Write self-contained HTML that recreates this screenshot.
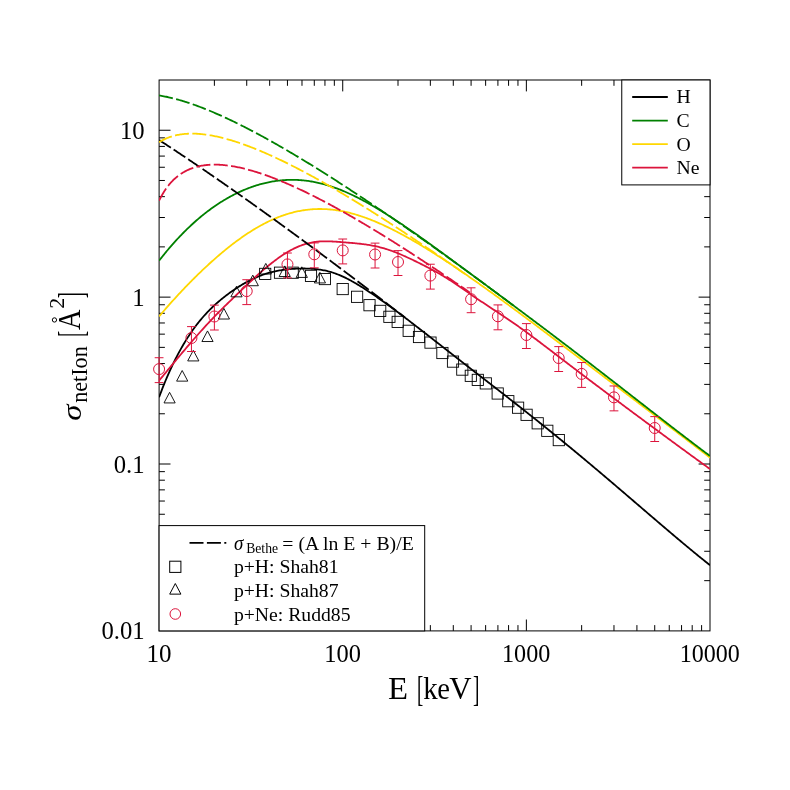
<!DOCTYPE html>
<html><head><meta charset="utf-8"><title>chart</title>
<style>html,body{margin:0;padding:0;background:#fff;width:790px;height:790px;overflow:hidden;font-family:"Liberation Serif",serif}</style>
</head><body>
<svg width="790" height="790" viewBox="0 0 790 790" style="position:absolute;left:0;top:0;will-change:transform">
<rect width="790" height="790" fill="#fff"/>
<defs><clipPath id="c"><rect x="159.1" y="80.0" width="550.9" height="550.9"/></clipPath></defs>
<path d="M214.38,80.0 v5.8 M246.72,80.0 v5.8 M269.66,80.0 v5.8 M287.45,80.0 v5.8 M301.99,80.0 v5.8 M314.29,80.0 v5.8 M324.94,80.0 v5.8 M334.33,80.0 v5.8 M342.73,80.0 v11.4 M398.01,80.0 v5.8 M430.35,630.9 v-5.8 M430.35,80.0 v5.8 M453.29,630.9 v-5.8 M453.29,80.0 v5.8 M471.09,630.9 v-5.8 M471.09,80.0 v5.8 M485.63,630.9 v-5.8 M485.63,80.0 v5.8 M497.92,630.9 v-5.8 M497.92,80.0 v5.8 M508.57,630.9 v-5.8 M508.57,80.0 v5.8 M517.96,630.9 v-5.8 M517.96,80.0 v5.8 M526.37,630.9 v-11.4 M526.37,80.0 v11.4 M581.65,630.9 v-5.8 M581.65,80.0 v5.8 M613.98,630.9 v-5.8 M613.98,80.0 v5.8 M636.92,630.9 v-5.8 M654.72,630.9 v-5.8 M669.26,630.9 v-5.8 M681.55,630.9 v-5.8 M692.20,630.9 v-5.8 M701.60,630.9 v-5.8 M710.0,580.66 h-5.8 M710.0,551.27 h-5.8 M710.0,530.42 h-5.8 M159.1,514.25 h5.8 M710.0,514.25 h-5.8 M159.1,501.04 h5.8 M710.0,501.04 h-5.8 M159.1,489.86 h5.8 M710.0,489.86 h-5.8 M159.1,480.19 h5.8 M710.0,480.19 h-5.8 M159.1,471.65 h5.8 M710.0,471.65 h-5.8 M159.1,464.01 h11.4 M710.0,464.01 h-11.4 M159.1,413.77 h5.8 M710.0,413.77 h-5.8 M159.1,384.39 h5.8 M710.0,384.39 h-5.8 M159.1,363.54 h5.8 M710.0,363.54 h-5.8 M159.1,347.36 h5.8 M710.0,347.36 h-5.8 M159.1,334.15 h5.8 M710.0,334.15 h-5.8 M159.1,322.98 h5.8 M710.0,322.98 h-5.8 M159.1,313.30 h5.8 M710.0,313.30 h-5.8 M159.1,304.76 h5.8 M710.0,304.76 h-5.8 M159.1,297.13 h11.4 M710.0,297.13 h-11.4 M159.1,246.89 h5.8 M710.0,246.89 h-5.8 M159.1,217.50 h5.8 M710.0,217.50 h-5.8 M159.1,196.65 h5.8 M710.0,196.65 h-5.8 M159.1,180.48 h5.8 M159.1,167.26 h5.8 M159.1,156.09 h5.8 M159.1,146.41 h5.8 M159.1,137.87 h5.8 M159.1,130.24 h11.4" stroke="#000" stroke-width="1" fill="none"/>
<rect x="159.1" y="80.0" width="550.90" height="550.90" fill="none" stroke="#000" stroke-width="1"/>
<g clip-path="url(#c)" fill="none" stroke-linejoin="round">
<path d="M159.10,397.25 L160.20,394.24 L161.31,391.31 L162.41,388.44 L163.52,385.64 L164.62,382.91 L165.72,380.24 L166.83,377.63 L167.93,375.08 L169.04,372.58 L170.14,370.14 L171.24,367.75 L172.35,365.41 L173.45,363.13 L174.56,360.89 L175.66,358.69 L176.76,356.55 L177.87,354.45 L178.97,352.39 L180.08,350.37 L181.18,348.40 L182.28,346.46 L183.39,344.57 L184.49,342.72 L185.60,340.90 L186.70,339.13 L187.80,337.39 L188.91,335.69 L190.01,334.03 L191.12,332.41 L192.22,330.82 L193.32,329.26 L194.43,327.74 L195.53,326.26 L196.64,324.80 L197.74,323.38 L198.84,321.99 L199.95,320.63 L201.05,319.31 L202.16,318.01 L203.26,316.74 L204.36,315.50 L205.47,314.28 L206.57,313.09 L207.68,311.93 L208.78,310.79 L209.88,309.68 L210.99,308.59 L212.09,307.52 L213.20,306.47 L214.30,305.44 L215.40,304.43 L216.51,303.44 L217.61,302.47 L218.72,301.52 L219.82,300.58 L220.92,299.66 L222.03,298.75 L223.13,297.87 L224.24,296.99 L225.34,296.13 L226.44,295.28 L227.55,294.45 L228.65,293.63 L229.76,292.83 L230.86,292.03 L231.96,291.25 L233.07,290.48 L234.17,289.73 L235.28,288.98 L236.38,288.25 L237.48,287.53 L238.59,286.83 L239.69,286.13 L240.80,285.45 L241.90,284.79 L243.00,284.13 L244.11,283.49 L245.21,282.86 L246.32,282.24 L247.42,281.64 L248.52,281.06 L249.63,280.48 L250.73,279.92 L251.84,279.38 L252.94,278.85 L254.04,278.33 L255.15,277.83 L256.25,277.35 L257.36,276.88 L258.46,276.42 L259.56,275.98 L260.67,275.56 L261.77,275.14 L262.88,274.75 L263.98,274.37 L265.08,274.00 L266.19,273.65 L267.29,273.31 L268.40,272.98 L269.50,272.67 L270.60,272.38 L271.71,272.09 L272.81,271.82 L273.92,271.57 L275.02,271.32 L276.12,271.09 L277.23,270.87 L278.33,270.66 L279.44,270.47 L280.54,270.28 L281.64,270.11 L282.75,269.94 L283.85,269.79 L284.96,269.65 L286.06,269.51 L287.16,269.39 L288.27,269.27 L289.37,269.16 L290.48,269.07 L291.58,268.97 L292.68,268.89 L293.79,268.82 L294.89,268.75 L296.00,268.69 L297.10,268.64 L298.21,268.60 L299.31,268.57 L300.41,268.54 L301.52,268.52 L302.62,268.52 L303.73,268.51 L304.83,268.52 L305.93,268.54 L307.04,268.56 L308.14,268.60 L309.25,268.64 L310.35,268.70 L311.45,268.76 L312.56,268.84 L313.66,268.92 L314.77,269.02 L315.87,269.13 L316.97,269.25 L318.08,269.39 L319.18,269.54 L320.29,269.70 L321.39,269.87 L322.49,270.07 L323.60,270.27 L324.70,270.49 L325.81,270.73 L326.91,270.99 L328.01,271.26 L329.12,271.55 L330.22,271.85 L331.33,272.17 L332.43,272.51 L333.53,272.87 L334.64,273.24 L335.74,273.63 L336.85,274.04 L337.95,274.47 L339.05,274.91 L340.16,275.37 L341.26,275.84 L342.37,276.33 L343.47,276.84 L344.57,277.36 L345.68,277.90 L346.78,278.45 L347.89,279.02 L348.99,279.60 L350.09,280.19 L351.20,280.79 L352.30,281.41 L353.41,282.03 L354.51,282.67 L355.61,283.31 L356.72,283.97 L357.82,284.63 L358.93,285.30 L360.03,285.98 L361.13,286.67 L362.24,287.36 L363.34,288.06 L364.45,288.77 L365.55,289.48 L366.65,290.20 L367.76,290.92 L368.86,291.65 L369.97,292.38 L371.07,293.12 L372.17,293.86 L373.28,294.61 L374.38,295.36 L375.49,296.12 L376.59,296.88 L377.69,297.65 L378.80,298.42 L379.90,299.19 L381.01,299.97 L382.11,300.76 L383.21,301.54 L384.32,302.33 L385.42,303.12 L386.53,303.92 L387.63,304.72 L388.73,305.52 L389.84,306.33 L390.94,307.14 L392.05,307.95 L393.15,308.76 L394.25,309.58 L395.36,310.40 L396.46,311.22 L397.57,312.05 L398.67,312.88 L399.77,313.70 L400.88,314.54 L401.98,315.37 L403.09,316.21 L404.19,317.04 L405.29,317.88 L406.40,318.72 L407.50,319.56 L408.61,320.41 L409.71,321.25 L410.81,322.10 L411.92,322.95 L413.02,323.80 L414.13,324.65 L415.23,325.50 L416.33,326.35 L417.44,327.21 L418.54,328.06 L419.65,328.92 L420.75,329.77 L421.85,330.63 L422.96,331.49 L424.06,332.35 L425.17,333.21 L426.27,334.07 L427.37,334.93 L428.48,335.79 L429.58,336.65 L430.69,337.51 L431.79,338.37 L432.89,339.23 L434.00,340.09 L435.10,340.96 L436.21,341.82 L437.31,342.68 L438.41,343.54 L439.52,344.41 L440.62,345.27 L441.73,346.13 L442.83,346.99 L443.93,347.86 L445.04,348.72 L446.14,349.58 L447.25,350.44 L448.35,351.31 L449.45,352.17 L450.56,353.03 L451.66,353.89 L452.77,354.75 L453.87,355.61 L454.97,356.47 L456.08,357.33 L457.18,358.19 L458.29,359.05 L459.39,359.91 L460.49,360.77 L461.60,361.63 L462.70,362.49 L463.81,363.35 L464.91,364.21 L466.01,365.06 L467.12,365.92 L468.22,366.78 L469.33,367.64 L470.43,368.49 L471.53,369.35 L472.64,370.20 L473.74,371.06 L474.85,371.92 L475.95,372.77 L477.05,373.63 L478.16,374.48 L479.26,375.34 L480.37,376.20 L481.47,377.05 L482.57,377.91 L483.68,378.76 L484.78,379.62 L485.89,380.47 L486.99,381.33 L488.09,382.18 L489.20,383.04 L490.30,383.90 L491.41,384.75 L492.51,385.61 L493.61,386.47 L494.72,387.32 L495.82,388.18 L496.93,389.04 L498.03,389.90 L499.13,390.76 L500.24,391.61 L501.34,392.47 L502.45,393.33 L503.55,394.19 L504.65,395.05 L505.76,395.91 L506.86,396.78 L507.97,397.64 L509.07,398.50 L510.17,399.36 L511.28,400.23 L512.38,401.09 L513.49,401.96 L514.59,402.82 L515.69,403.69 L516.80,404.56 L517.90,405.42 L519.01,406.29 L520.11,407.16 L521.21,408.03 L522.32,408.90 L523.42,409.77 L524.53,410.64 L525.63,411.52 L526.73,412.39 L527.84,413.26 L528.94,414.14 L530.05,415.01 L531.15,415.89 L532.25,416.77 L533.36,417.65 L534.46,418.53 L535.57,419.41 L536.67,420.29 L537.77,421.17 L538.88,422.05 L539.98,422.94 L541.09,423.82 L542.19,424.71 L543.29,425.59 L544.40,426.48 L545.50,427.37 L546.61,428.26 L547.71,429.15 L548.81,430.04 L549.92,430.93 L551.02,431.82 L552.13,432.72 L553.23,433.61 L554.33,434.51 L555.44,435.40 L556.54,436.30 L557.65,437.20 L558.75,438.10 L559.85,439.00 L560.96,439.90 L562.06,440.81 L563.17,441.71 L564.27,442.61 L565.37,443.52 L566.48,444.43 L567.58,445.33 L568.69,446.24 L569.79,447.15 L570.89,448.06 L572.00,448.97 L573.10,449.89 L574.21,450.80 L575.31,451.71 L576.42,452.63 L577.52,453.54 L578.62,454.46 L579.73,455.38 L580.83,456.30 L581.94,457.22 L583.04,458.14 L584.14,459.06 L585.25,459.98 L586.35,460.90 L587.46,461.83 L588.56,462.75 L589.66,463.68 L590.77,464.61 L591.87,465.53 L592.98,466.46 L594.08,467.39 L595.18,468.32 L596.29,469.25 L597.39,470.18 L598.50,471.12 L599.60,472.05 L600.70,472.98 L601.81,473.92 L602.91,474.85 L604.02,475.79 L605.12,476.72 L606.22,477.66 L607.33,478.60 L608.43,479.54 L609.54,480.48 L610.64,481.42 L611.74,482.36 L612.85,483.30 L613.95,484.24 L615.06,485.18 L616.16,486.12 L617.26,487.06 L618.37,488.01 L619.47,488.95 L620.58,489.90 L621.68,490.84 L622.78,491.79 L623.89,492.73 L624.99,493.68 L626.10,494.62 L627.20,495.57 L628.30,496.52 L629.41,497.46 L630.51,498.41 L631.62,499.36 L632.72,500.30 L633.82,501.25 L634.93,502.20 L636.03,503.15 L637.14,504.09 L638.24,505.04 L639.34,505.99 L640.45,506.94 L641.55,507.89 L642.66,508.83 L643.76,509.78 L644.86,510.73 L645.97,511.68 L647.07,512.62 L648.18,513.57 L649.28,514.52 L650.38,515.47 L651.49,516.41 L652.59,517.36 L653.70,518.30 L654.80,519.25 L655.90,520.19 L657.01,521.14 L658.11,522.08 L659.22,523.03 L660.32,523.97 L661.42,524.91 L662.53,525.85 L663.63,526.79 L664.74,527.73 L665.84,528.67 L666.94,529.61 L668.05,530.55 L669.15,531.49 L670.26,532.42 L671.36,533.36 L672.46,534.29 L673.57,535.23 L674.67,536.16 L675.78,537.09 L676.88,538.02 L677.98,538.95 L679.09,539.88 L680.19,540.81 L681.30,541.73 L682.40,542.66 L683.50,543.58 L684.61,544.50 L685.71,545.42 L686.82,546.34 L687.92,547.26 L689.02,548.17 L690.13,549.09 L691.23,550.00 L692.34,550.91 L693.44,551.82 L694.54,552.72 L695.65,553.63 L696.75,554.53 L697.86,555.43 L698.96,556.33 L700.06,557.23 L701.17,558.13 L702.27,559.02 L703.38,559.91 L704.48,560.80 L705.58,561.68 L706.69,562.57 L707.79,563.45 L708.90,564.33 L710.00,565.21" stroke="#000000" stroke-width="1.8"/>
<path d="M159.10,316.43 L160.20,315.12 L161.31,313.83 L162.41,312.53 L163.52,311.25 L164.62,309.97 L165.72,308.70 L166.83,307.44 L167.93,306.18 L169.04,304.93 L170.14,303.69 L171.24,302.45 L172.35,301.22 L173.45,300.00 L174.56,298.78 L175.66,297.57 L176.76,296.37 L177.87,295.17 L178.97,293.98 L180.08,292.80 L181.18,291.62 L182.28,290.45 L183.39,289.29 L184.49,288.13 L185.60,286.98 L186.70,285.83 L187.80,284.69 L188.91,283.56 L190.01,282.43 L191.12,281.31 L192.22,280.20 L193.32,279.09 L194.43,277.99 L195.53,276.90 L196.64,275.81 L197.74,274.73 L198.84,273.66 L199.95,272.59 L201.05,271.53 L202.16,270.47 L203.26,269.42 L204.36,268.38 L205.47,267.35 L206.57,266.32 L207.68,265.30 L208.78,264.28 L209.88,263.28 L210.99,262.28 L212.09,261.28 L213.20,260.30 L214.30,259.32 L215.40,258.34 L216.51,257.38 L217.61,256.42 L218.72,255.47 L219.82,254.53 L220.92,253.59 L222.03,252.66 L223.13,251.74 L224.24,250.83 L225.34,249.92 L226.44,249.03 L227.55,248.14 L228.65,247.25 L229.76,246.38 L230.86,245.52 L231.96,244.66 L233.07,243.81 L234.17,242.97 L235.28,242.14 L236.38,241.31 L237.48,240.50 L238.59,239.69 L239.69,238.90 L240.80,238.11 L241.90,237.33 L243.00,236.56 L244.11,235.80 L245.21,235.05 L246.32,234.31 L247.42,233.58 L248.52,232.85 L249.63,232.14 L250.73,231.44 L251.84,230.75 L252.94,230.06 L254.04,229.39 L255.15,228.72 L256.25,228.07 L257.36,227.43 L258.46,226.79 L259.56,226.17 L260.67,225.56 L261.77,224.96 L262.88,224.36 L263.98,223.78 L265.08,223.21 L266.19,222.65 L267.29,222.10 L268.40,221.56 L269.50,221.03 L270.60,220.52 L271.71,220.01 L272.81,219.52 L273.92,219.03 L275.02,218.56 L276.12,218.10 L277.23,217.64 L278.33,217.20 L279.44,216.78 L280.54,216.36 L281.64,215.95 L282.75,215.56 L283.85,215.17 L284.96,214.80 L286.06,214.44 L287.16,214.09 L288.27,213.75 L289.37,213.43 L290.48,213.11 L291.58,212.81 L292.68,212.52 L293.79,212.24 L294.89,211.97 L296.00,211.71 L297.10,211.47 L298.21,211.24 L299.31,211.01 L300.41,210.80 L301.52,210.61 L302.62,210.42 L303.73,210.24 L304.83,210.08 L305.93,209.93 L307.04,209.79 L308.14,209.66 L309.25,209.54 L310.35,209.44 L311.45,209.34 L312.56,209.26 L313.66,209.19 L314.77,209.13 L315.87,209.08 L316.97,209.05 L318.08,209.02 L319.18,209.01 L320.29,209.01 L321.39,209.01 L322.49,209.03 L323.60,209.06 L324.70,209.11 L325.81,209.16 L326.91,209.22 L328.01,209.30 L329.12,209.38 L330.22,209.48 L331.33,209.59 L332.43,209.71 L333.53,209.84 L334.64,209.97 L335.74,210.12 L336.85,210.28 L337.95,210.45 L339.05,210.63 L340.16,210.83 L341.26,211.03 L342.37,211.24 L343.47,211.46 L344.57,211.69 L345.68,211.93 L346.78,212.18 L347.89,212.43 L348.99,212.70 L350.09,212.98 L351.20,213.27 L352.30,213.56 L353.41,213.87 L354.51,214.18 L355.61,214.50 L356.72,214.83 L357.82,215.17 L358.93,215.52 L360.03,215.88 L361.13,216.24 L362.24,216.61 L363.34,216.99 L364.45,217.38 L365.55,217.77 L366.65,218.18 L367.76,218.59 L368.86,219.00 L369.97,219.43 L371.07,219.86 L372.17,220.30 L373.28,220.74 L374.38,221.20 L375.49,221.66 L376.59,222.12 L377.69,222.59 L378.80,223.07 L379.90,223.56 L381.01,224.05 L382.11,224.55 L383.21,225.05 L384.32,225.56 L385.42,226.08 L386.53,226.60 L387.63,227.12 L388.73,227.65 L389.84,228.19 L390.94,228.74 L392.05,229.28 L393.15,229.84 L394.25,230.40 L395.36,230.96 L396.46,231.53 L397.57,232.10 L398.67,232.68 L399.77,233.26 L400.88,233.85 L401.98,234.44 L403.09,235.04 L404.19,235.64 L405.29,236.25 L406.40,236.86 L407.50,237.47 L408.61,238.09 L409.71,238.71 L410.81,239.34 L411.92,239.97 L413.02,240.61 L414.13,241.24 L415.23,241.89 L416.33,242.53 L417.44,243.18 L418.54,243.83 L419.65,244.49 L420.75,245.15 L421.85,245.81 L422.96,246.48 L424.06,247.15 L425.17,247.82 L426.27,248.50 L427.37,249.18 L428.48,249.86 L429.58,250.55 L430.69,251.24 L431.79,251.93 L432.89,252.62 L434.00,253.32 L435.10,254.02 L436.21,254.72 L437.31,255.43 L438.41,256.14 L439.52,256.85 L440.62,257.56 L441.73,258.28 L442.83,259.00 L443.93,259.72 L445.04,260.44 L446.14,261.17 L447.25,261.89 L448.35,262.62 L449.45,263.36 L450.56,264.09 L451.66,264.83 L452.77,265.57 L453.87,266.31 L454.97,267.05 L456.08,267.80 L457.18,268.55 L458.29,269.29 L459.39,270.05 L460.49,270.80 L461.60,271.55 L462.70,272.31 L463.81,273.07 L464.91,273.83 L466.01,274.59 L467.12,275.36 L468.22,276.12 L469.33,276.89 L470.43,277.66 L471.53,278.43 L472.64,279.20 L473.74,279.97 L474.85,280.75 L475.95,281.53 L477.05,282.30 L478.16,283.08 L479.26,283.86 L480.37,284.65 L481.47,285.43 L482.57,286.21 L483.68,287.00 L484.78,287.79 L485.89,288.58 L486.99,289.37 L488.09,290.16 L489.20,290.95 L490.30,291.74 L491.41,292.54 L492.51,293.33 L493.61,294.13 L494.72,294.93 L495.82,295.73 L496.93,296.53 L498.03,297.33 L499.13,298.13 L500.24,298.93 L501.34,299.74 L502.45,300.54 L503.55,301.35 L504.65,302.15 L505.76,302.96 L506.86,303.77 L507.97,304.58 L509.07,305.39 L510.17,306.20 L511.28,307.01 L512.38,307.83 L513.49,308.64 L514.59,309.46 L515.69,310.27 L516.80,311.09 L517.90,311.90 L519.01,312.72 L520.11,313.54 L521.21,314.36 L522.32,315.18 L523.42,316.00 L524.53,316.82 L525.63,317.64 L526.73,318.46 L527.84,319.28 L528.94,320.11 L530.05,320.93 L531.15,321.75 L532.25,322.58 L533.36,323.40 L534.46,324.23 L535.57,325.06 L536.67,325.88 L537.77,326.71 L538.88,327.54 L539.98,328.37 L541.09,329.19 L542.19,330.02 L543.29,330.85 L544.40,331.68 L545.50,332.51 L546.61,333.34 L547.71,334.17 L548.81,335.00 L549.92,335.84 L551.02,336.67 L552.13,337.50 L553.23,338.33 L554.33,339.17 L555.44,340.00 L556.54,340.83 L557.65,341.67 L558.75,342.50 L559.85,343.33 L560.96,344.17 L562.06,345.00 L563.17,345.84 L564.27,346.67 L565.37,347.51 L566.48,348.34 L567.58,349.18 L568.69,350.02 L569.79,350.85 L570.89,351.69 L572.00,352.52 L573.10,353.36 L574.21,354.20 L575.31,355.03 L576.42,355.87 L577.52,356.71 L578.62,357.55 L579.73,358.38 L580.83,359.22 L581.94,360.06 L583.04,360.90 L584.14,361.73 L585.25,362.57 L586.35,363.41 L587.46,364.25 L588.56,365.09 L589.66,365.92 L590.77,366.76 L591.87,367.60 L592.98,368.44 L594.08,369.28 L595.18,370.12 L596.29,370.95 L597.39,371.79 L598.50,372.63 L599.60,373.47 L600.70,374.31 L601.81,375.15 L602.91,375.98 L604.02,376.82 L605.12,377.66 L606.22,378.50 L607.33,379.34 L608.43,380.18 L609.54,381.02 L610.64,381.86 L611.74,382.69 L612.85,383.53 L613.95,384.37 L615.06,385.21 L616.16,386.05 L617.26,386.89 L618.37,387.73 L619.47,388.57 L620.58,389.40 L621.68,390.24 L622.78,391.08 L623.89,391.92 L624.99,392.76 L626.10,393.60 L627.20,394.44 L628.30,395.28 L629.41,396.11 L630.51,396.95 L631.62,397.79 L632.72,398.63 L633.82,399.47 L634.93,400.31 L636.03,401.15 L637.14,401.99 L638.24,402.82 L639.34,403.66 L640.45,404.50 L641.55,405.34 L642.66,406.18 L643.76,407.02 L644.86,407.86 L645.97,408.70 L647.07,409.54 L648.18,410.38 L649.28,411.22 L650.38,412.06 L651.49,412.89 L652.59,413.73 L653.70,414.57 L654.80,415.41 L655.90,416.25 L657.01,417.09 L658.11,417.93 L659.22,418.77 L660.32,419.61 L661.42,420.45 L662.53,421.29 L663.63,422.14 L664.74,422.98 L665.84,423.82 L666.94,424.66 L668.05,425.50 L669.15,426.34 L670.26,427.18 L671.36,428.02 L672.46,428.87 L673.57,429.71 L674.67,430.55 L675.78,431.39 L676.88,432.24 L677.98,433.08 L679.09,433.92 L680.19,434.77 L681.30,435.61 L682.40,436.45 L683.50,437.30 L684.61,438.14 L685.71,438.99 L686.82,439.83 L687.92,440.68 L689.02,441.52 L690.13,442.37 L691.23,443.22 L692.34,444.06 L693.44,444.91 L694.54,445.76 L695.65,446.61 L696.75,447.46 L697.86,448.31 L698.96,449.16 L700.06,450.01 L701.17,450.86 L702.27,451.71 L703.38,452.56 L704.48,453.41 L705.58,454.26 L706.69,455.11 L707.79,455.97 L708.90,456.82 L710.00,457.68" stroke="#ffd700" stroke-width="1.8"/>
<path d="M159.10,260.68 L160.20,259.26 L161.31,257.85 L162.41,256.46 L163.52,255.08 L164.62,253.72 L165.72,252.37 L166.83,251.04 L167.93,249.72 L169.04,248.42 L170.14,247.13 L171.24,245.85 L172.35,244.59 L173.45,243.35 L174.56,242.11 L175.66,240.89 L176.76,239.69 L177.87,238.50 L178.97,237.32 L180.08,236.16 L181.18,235.01 L182.28,233.87 L183.39,232.75 L184.49,231.64 L185.60,230.54 L186.70,229.46 L187.80,228.39 L188.91,227.34 L190.01,226.29 L191.12,225.26 L192.22,224.24 L193.32,223.24 L194.43,222.25 L195.53,221.27 L196.64,220.30 L197.74,219.35 L198.84,218.40 L199.95,217.47 L201.05,216.56 L202.16,215.65 L203.26,214.76 L204.36,213.88 L205.47,213.01 L206.57,212.16 L207.68,211.31 L208.78,210.48 L209.88,209.66 L210.99,208.85 L212.09,208.06 L213.20,207.27 L214.30,206.50 L215.40,205.74 L216.51,204.99 L217.61,204.25 L218.72,203.52 L219.82,202.81 L220.92,202.11 L222.03,201.41 L223.13,200.73 L224.24,200.06 L225.34,199.41 L226.44,198.76 L227.55,198.12 L228.65,197.50 L229.76,196.89 L230.86,196.29 L231.96,195.70 L233.07,195.12 L234.17,194.55 L235.28,193.99 L236.38,193.44 L237.48,192.91 L238.59,192.38 L239.69,191.87 L240.80,191.37 L241.90,190.87 L243.00,190.39 L244.11,189.92 L245.21,189.46 L246.32,189.01 L247.42,188.58 L248.52,188.15 L249.63,187.73 L250.73,187.33 L251.84,186.93 L252.94,186.55 L254.04,186.18 L255.15,185.81 L256.25,185.46 L257.36,185.12 L258.46,184.79 L259.56,184.47 L260.67,184.16 L261.77,183.86 L262.88,183.57 L263.98,183.29 L265.08,183.03 L266.19,182.77 L267.29,182.53 L268.40,182.29 L269.50,182.07 L270.60,181.85 L271.71,181.65 L272.81,181.46 L273.92,181.28 L275.02,181.10 L276.12,180.94 L277.23,180.79 L278.33,180.66 L279.44,180.53 L280.54,180.41 L281.64,180.30 L282.75,180.21 L283.85,180.12 L284.96,180.05 L286.06,179.99 L287.16,179.93 L288.27,179.89 L289.37,179.86 L290.48,179.84 L291.58,179.83 L292.68,179.83 L293.79,179.84 L294.89,179.87 L296.00,179.90 L297.10,179.95 L298.21,180.00 L299.31,180.07 L300.41,180.14 L301.52,180.23 L302.62,180.33 L303.73,180.44 L304.83,180.56 L305.93,180.69 L307.04,180.83 L308.14,180.98 L309.25,181.14 L310.35,181.31 L311.45,181.49 L312.56,181.69 L313.66,181.89 L314.77,182.10 L315.87,182.33 L316.97,182.56 L318.08,182.80 L319.18,183.06 L320.29,183.32 L321.39,183.60 L322.49,183.88 L323.60,184.17 L324.70,184.48 L325.81,184.79 L326.91,185.11 L328.01,185.45 L329.12,185.79 L330.22,186.14 L331.33,186.50 L332.43,186.87 L333.53,187.25 L334.64,187.64 L335.74,188.03 L336.85,188.44 L337.95,188.85 L339.05,189.28 L340.16,189.71 L341.26,190.15 L342.37,190.60 L343.47,191.06 L344.57,191.53 L345.68,192.00 L346.78,192.48 L347.89,192.97 L348.99,193.47 L350.09,193.98 L351.20,194.49 L352.30,195.01 L353.41,195.54 L354.51,196.07 L355.61,196.62 L356.72,197.17 L357.82,197.72 L358.93,198.29 L360.03,198.86 L361.13,199.43 L362.24,200.02 L363.34,200.61 L364.45,201.20 L365.55,201.80 L366.65,202.41 L367.76,203.02 L368.86,203.64 L369.97,204.27 L371.07,204.90 L372.17,205.53 L373.28,206.17 L374.38,206.82 L375.49,207.47 L376.59,208.13 L377.69,208.79 L378.80,209.45 L379.90,210.12 L381.01,210.80 L382.11,211.48 L383.21,212.16 L384.32,212.85 L385.42,213.54 L386.53,214.24 L387.63,214.94 L388.73,215.65 L389.84,216.35 L390.94,217.07 L392.05,217.78 L393.15,218.50 L394.25,219.22 L395.36,219.95 L396.46,220.68 L397.57,221.41 L398.67,222.15 L399.77,222.89 L400.88,223.63 L401.98,224.37 L403.09,225.12 L404.19,225.87 L405.29,226.62 L406.40,227.38 L407.50,228.14 L408.61,228.90 L409.71,229.66 L410.81,230.43 L411.92,231.19 L413.02,231.96 L414.13,232.73 L415.23,233.51 L416.33,234.28 L417.44,235.06 L418.54,235.84 L419.65,236.62 L420.75,237.41 L421.85,238.19 L422.96,238.98 L424.06,239.76 L425.17,240.55 L426.27,241.34 L427.37,242.14 L428.48,242.93 L429.58,243.72 L430.69,244.52 L431.79,245.32 L432.89,246.11 L434.00,246.91 L435.10,247.71 L436.21,248.52 L437.31,249.32 L438.41,250.12 L439.52,250.93 L440.62,251.73 L441.73,252.54 L442.83,253.34 L443.93,254.15 L445.04,254.96 L446.14,255.77 L447.25,256.57 L448.35,257.38 L449.45,258.19 L450.56,259.00 L451.66,259.82 L452.77,260.63 L453.87,261.44 L454.97,262.25 L456.08,263.06 L457.18,263.88 L458.29,264.69 L459.39,265.50 L460.49,266.32 L461.60,267.13 L462.70,267.95 L463.81,268.76 L464.91,269.58 L466.01,270.39 L467.12,271.21 L468.22,272.02 L469.33,272.84 L470.43,273.65 L471.53,274.47 L472.64,275.29 L473.74,276.10 L474.85,276.92 L475.95,277.73 L477.05,278.55 L478.16,279.37 L479.26,280.18 L480.37,281.00 L481.47,281.82 L482.57,282.63 L483.68,283.45 L484.78,284.27 L485.89,285.08 L486.99,285.90 L488.09,286.72 L489.20,287.54 L490.30,288.35 L491.41,289.17 L492.51,289.99 L493.61,290.81 L494.72,291.62 L495.82,292.44 L496.93,293.26 L498.03,294.08 L499.13,294.90 L500.24,295.72 L501.34,296.54 L502.45,297.36 L503.55,298.18 L504.65,299.00 L505.76,299.82 L506.86,300.64 L507.97,301.46 L509.07,302.28 L510.17,303.10 L511.28,303.92 L512.38,304.74 L513.49,305.56 L514.59,306.39 L515.69,307.21 L516.80,308.03 L517.90,308.86 L519.01,309.68 L520.11,310.50 L521.21,311.33 L522.32,312.15 L523.42,312.98 L524.53,313.80 L525.63,314.63 L526.73,315.45 L527.84,316.28 L528.94,317.11 L530.05,317.93 L531.15,318.76 L532.25,319.59 L533.36,320.42 L534.46,321.25 L535.57,322.08 L536.67,322.91 L537.77,323.74 L538.88,324.57 L539.98,325.40 L541.09,326.23 L542.19,327.06 L543.29,327.89 L544.40,328.73 L545.50,329.56 L546.61,330.39 L547.71,331.23 L548.81,332.06 L549.92,332.90 L551.02,333.73 L552.13,334.57 L553.23,335.40 L554.33,336.24 L555.44,337.08 L556.54,337.91 L557.65,338.75 L558.75,339.59 L559.85,340.43 L560.96,341.27 L562.06,342.11 L563.17,342.95 L564.27,343.79 L565.37,344.63 L566.48,345.47 L567.58,346.31 L568.69,347.15 L569.79,348.00 L570.89,348.84 L572.00,349.68 L573.10,350.53 L574.21,351.37 L575.31,352.22 L576.42,353.06 L577.52,353.91 L578.62,354.75 L579.73,355.60 L580.83,356.44 L581.94,357.29 L583.04,358.14 L584.14,358.99 L585.25,359.84 L586.35,360.68 L587.46,361.53 L588.56,362.38 L589.66,363.23 L590.77,364.08 L591.87,364.93 L592.98,365.78 L594.08,366.64 L595.18,367.49 L596.29,368.34 L597.39,369.19 L598.50,370.04 L599.60,370.90 L600.70,371.75 L601.81,372.60 L602.91,373.46 L604.02,374.31 L605.12,375.17 L606.22,376.02 L607.33,376.88 L608.43,377.73 L609.54,378.59 L610.64,379.44 L611.74,380.30 L612.85,381.16 L613.95,382.01 L615.06,382.87 L616.16,383.73 L617.26,384.58 L618.37,385.44 L619.47,386.30 L620.58,387.16 L621.68,388.01 L622.78,388.87 L623.89,389.73 L624.99,390.59 L626.10,391.45 L627.20,392.30 L628.30,393.16 L629.41,394.02 L630.51,394.88 L631.62,395.74 L632.72,396.60 L633.82,397.46 L634.93,398.32 L636.03,399.17 L637.14,400.03 L638.24,400.89 L639.34,401.75 L640.45,402.61 L641.55,403.47 L642.66,404.33 L643.76,405.19 L644.86,406.04 L645.97,406.90 L647.07,407.76 L648.18,408.62 L649.28,409.48 L650.38,410.34 L651.49,411.19 L652.59,412.05 L653.70,412.91 L654.80,413.77 L655.90,414.62 L657.01,415.48 L658.11,416.34 L659.22,417.19 L660.32,418.05 L661.42,418.90 L662.53,419.76 L663.63,420.61 L664.74,421.47 L665.84,422.32 L666.94,423.18 L668.05,424.03 L669.15,424.88 L670.26,425.74 L671.36,426.59 L672.46,427.44 L673.57,428.29 L674.67,429.14 L675.78,429.99 L676.88,430.84 L677.98,431.69 L679.09,432.54 L680.19,433.39 L681.30,434.24 L682.40,435.08 L683.50,435.93 L684.61,436.77 L685.71,437.62 L686.82,438.46 L687.92,439.31 L689.02,440.15 L690.13,440.99 L691.23,441.83 L692.34,442.67 L693.44,443.51 L694.54,444.35 L695.65,445.19 L696.75,446.02 L697.86,446.86 L698.96,447.69 L700.06,448.53 L701.17,449.36 L702.27,450.19 L703.38,451.02 L704.48,451.85 L705.58,452.68 L706.69,453.51 L707.79,454.34 L708.90,455.16 L710.00,455.99" stroke="#008000" stroke-width="1.8"/>
<path d="M159.10,380.61 L160.20,379.27 L161.31,377.93 L162.41,376.59 L163.52,375.25 L164.62,373.91 L165.72,372.57 L166.83,371.23 L167.93,369.89 L169.04,368.55 L170.14,367.22 L171.24,365.88 L172.35,364.55 L173.45,363.22 L174.56,361.89 L175.66,360.56 L176.76,359.24 L177.87,357.92 L178.97,356.60 L180.08,355.28 L181.18,353.97 L182.28,352.66 L183.39,351.35 L184.49,350.05 L185.60,348.75 L186.70,347.45 L187.80,346.16 L188.91,344.87 L190.01,343.59 L191.12,342.31 L192.22,341.03 L193.32,339.76 L194.43,338.50 L195.53,337.24 L196.64,335.98 L197.74,334.73 L198.84,333.49 L199.95,332.25 L201.05,331.02 L202.16,329.79 L203.26,328.58 L204.36,327.36 L205.47,326.16 L206.57,324.96 L207.68,323.76 L208.78,322.58 L209.88,321.40 L210.99,320.22 L212.09,319.06 L213.20,317.90 L214.30,316.75 L215.40,315.61 L216.51,314.48 L217.61,313.35 L218.72,312.23 L219.82,311.12 L220.92,310.01 L222.03,308.91 L223.13,307.82 L224.24,306.73 L225.34,305.65 L226.44,304.57 L227.55,303.50 L228.65,302.42 L229.76,301.36 L230.86,300.29 L231.96,299.23 L233.07,298.17 L234.17,297.11 L235.28,296.05 L236.38,294.99 L237.48,293.93 L238.59,292.87 L239.69,291.81 L240.80,290.76 L241.90,289.70 L243.00,288.65 L244.11,287.59 L245.21,286.54 L246.32,285.49 L247.42,284.45 L248.52,283.41 L249.63,282.37 L250.73,281.34 L251.84,280.31 L252.94,279.28 L254.04,278.27 L255.15,277.25 L256.25,276.25 L257.36,275.25 L258.46,274.26 L259.56,273.27 L260.67,272.30 L261.77,271.33 L262.88,270.37 L263.98,269.42 L265.08,268.48 L266.19,267.55 L267.29,266.63 L268.40,265.72 L269.50,264.82 L270.60,263.93 L271.71,263.06 L272.81,262.20 L273.92,261.35 L275.02,260.51 L276.12,259.69 L277.23,258.88 L278.33,258.08 L279.44,257.30 L280.54,256.53 L281.64,255.78 L282.75,255.05 L283.85,254.33 L284.96,253.63 L286.06,252.95 L287.16,252.28 L288.27,251.63 L289.37,251.00 L290.48,250.38 L291.58,249.79 L292.68,249.21 L293.79,248.65 L294.89,248.12 L296.00,247.60 L297.10,247.10 L298.21,246.63 L299.31,246.17 L300.41,245.74 L301.52,245.33 L302.62,244.94 L303.73,244.57 L304.83,244.22 L305.93,243.89 L307.04,243.58 L308.14,243.30 L309.25,243.03 L310.35,242.78 L311.45,242.56 L312.56,242.36 L313.66,242.17 L314.77,242.00 L315.87,241.86 L316.97,241.73 L318.08,241.62 L319.18,241.52 L320.29,241.45 L321.39,241.39 L322.49,241.34 L323.60,241.31 L324.70,241.29 L325.81,241.29 L326.91,241.30 L328.01,241.32 L329.12,241.35 L330.22,241.39 L331.33,241.43 L332.43,241.49 L333.53,241.55 L334.64,241.62 L335.74,241.69 L336.85,241.77 L337.95,241.85 L339.05,241.93 L340.16,242.01 L341.26,242.10 L342.37,242.19 L343.47,242.28 L344.57,242.37 L345.68,242.46 L346.78,242.55 L347.89,242.64 L348.99,242.73 L350.09,242.82 L351.20,242.92 L352.30,243.01 L353.41,243.11 L354.51,243.21 L355.61,243.31 L356.72,243.42 L357.82,243.53 L358.93,243.64 L360.03,243.76 L361.13,243.89 L362.24,244.02 L363.34,244.16 L364.45,244.30 L365.55,244.46 L366.65,244.62 L367.76,244.78 L368.86,244.96 L369.97,245.15 L371.07,245.34 L372.17,245.55 L373.28,245.76 L374.38,245.98 L375.49,246.22 L376.59,246.46 L377.69,246.72 L378.80,246.98 L379.90,247.26 L381.01,247.55 L382.11,247.84 L383.21,248.15 L384.32,248.47 L385.42,248.80 L386.53,249.14 L387.63,249.50 L388.73,249.86 L389.84,250.23 L390.94,250.62 L392.05,251.01 L393.15,251.41 L394.25,251.83 L395.36,252.25 L396.46,252.68 L397.57,253.13 L398.67,253.58 L399.77,254.04 L400.88,254.50 L401.98,254.98 L403.09,255.46 L404.19,255.95 L405.29,256.44 L406.40,256.95 L407.50,257.45 L408.61,257.97 L409.71,258.48 L410.81,259.00 L411.92,259.53 L413.02,260.06 L414.13,260.59 L415.23,261.13 L416.33,261.67 L417.44,262.21 L418.54,262.75 L419.65,263.30 L420.75,263.85 L421.85,264.40 L422.96,264.96 L424.06,265.52 L425.17,266.08 L426.27,266.65 L427.37,267.22 L428.48,267.79 L429.58,268.37 L430.69,268.95 L431.79,269.54 L432.89,270.13 L434.00,270.73 L435.10,271.34 L436.21,271.95 L437.31,272.57 L438.41,273.19 L439.52,273.83 L440.62,274.47 L441.73,275.12 L442.83,275.78 L443.93,276.44 L445.04,277.12 L446.14,277.80 L447.25,278.49 L448.35,279.19 L449.45,279.89 L450.56,280.61 L451.66,281.33 L452.77,282.05 L453.87,282.79 L454.97,283.53 L456.08,284.27 L457.18,285.02 L458.29,285.77 L459.39,286.53 L460.49,287.28 L461.60,288.04 L462.70,288.80 L463.81,289.56 L464.91,290.33 L466.01,291.09 L467.12,291.85 L468.22,292.61 L469.33,293.37 L470.43,294.13 L471.53,294.89 L472.64,295.65 L473.74,296.40 L474.85,297.16 L475.95,297.91 L477.05,298.65 L478.16,299.40 L479.26,300.14 L480.37,300.89 L481.47,301.63 L482.57,302.36 L483.68,303.10 L484.78,303.83 L485.89,304.56 L486.99,305.29 L488.09,306.02 L489.20,306.75 L490.30,307.47 L491.41,308.20 L492.51,308.92 L493.61,309.65 L494.72,310.37 L495.82,311.10 L496.93,311.83 L498.03,312.56 L499.13,313.29 L500.24,314.02 L501.34,314.75 L502.45,315.49 L503.55,316.22 L504.65,316.97 L505.76,317.71 L506.86,318.45 L507.97,319.20 L509.07,319.95 L510.17,320.71 L511.28,321.47 L512.38,322.23 L513.49,322.99 L514.59,323.76 L515.69,324.54 L516.80,325.31 L517.90,326.09 L519.01,326.87 L520.11,327.66 L521.21,328.45 L522.32,329.24 L523.42,330.04 L524.53,330.84 L525.63,331.64 L526.73,332.45 L527.84,333.26 L528.94,334.07 L530.05,334.89 L531.15,335.71 L532.25,336.53 L533.36,337.35 L534.46,338.18 L535.57,339.01 L536.67,339.84 L537.77,340.67 L538.88,341.50 L539.98,342.34 L541.09,343.17 L542.19,344.01 L543.29,344.85 L544.40,345.69 L545.50,346.53 L546.61,347.37 L547.71,348.22 L548.81,349.06 L549.92,349.90 L551.02,350.75 L552.13,351.59 L553.23,352.44 L554.33,353.28 L555.44,354.13 L556.54,354.97 L557.65,355.82 L558.75,356.67 L559.85,357.51 L560.96,358.36 L562.06,359.20 L563.17,360.05 L564.27,360.89 L565.37,361.74 L566.48,362.58 L567.58,363.42 L568.69,364.27 L569.79,365.11 L570.89,365.95 L572.00,366.79 L573.10,367.63 L574.21,368.48 L575.31,369.31 L576.42,370.15 L577.52,370.99 L578.62,371.83 L579.73,372.67 L580.83,373.51 L581.94,374.34 L583.04,375.18 L584.14,376.01 L585.25,376.85 L586.35,377.68 L587.46,378.52 L588.56,379.35 L589.66,380.18 L590.77,381.01 L591.87,381.84 L592.98,382.68 L594.08,383.51 L595.18,384.34 L596.29,385.17 L597.39,386.00 L598.50,386.83 L599.60,387.65 L600.70,388.48 L601.81,389.31 L602.91,390.14 L604.02,390.96 L605.12,391.79 L606.22,392.62 L607.33,393.44 L608.43,394.27 L609.54,395.09 L610.64,395.92 L611.74,396.74 L612.85,397.57 L613.95,398.39 L615.06,399.22 L616.16,400.04 L617.26,400.86 L618.37,401.68 L619.47,402.51 L620.58,403.33 L621.68,404.15 L622.78,404.97 L623.89,405.79 L624.99,406.62 L626.10,407.44 L627.20,408.26 L628.30,409.08 L629.41,409.90 L630.51,410.72 L631.62,411.54 L632.72,412.36 L633.82,413.17 L634.93,413.99 L636.03,414.81 L637.14,415.63 L638.24,416.45 L639.34,417.27 L640.45,418.08 L641.55,418.90 L642.66,419.72 L643.76,420.53 L644.86,421.35 L645.97,422.17 L647.07,422.98 L648.18,423.80 L649.28,424.62 L650.38,425.43 L651.49,426.25 L652.59,427.06 L653.70,427.88 L654.80,428.69 L655.90,429.50 L657.01,430.32 L658.11,431.13 L659.22,431.95 L660.32,432.76 L661.42,433.57 L662.53,434.39 L663.63,435.20 L664.74,436.01 L665.84,436.82 L666.94,437.63 L668.05,438.44 L669.15,439.26 L670.26,440.07 L671.36,440.88 L672.46,441.69 L673.57,442.50 L674.67,443.31 L675.78,444.12 L676.88,444.93 L677.98,445.73 L679.09,446.54 L680.19,447.35 L681.30,448.16 L682.40,448.97 L683.50,449.77 L684.61,450.58 L685.71,451.39 L686.82,452.19 L687.92,453.00 L689.02,453.80 L690.13,454.61 L691.23,455.41 L692.34,456.22 L693.44,457.02 L694.54,457.82 L695.65,458.63 L696.75,459.43 L697.86,460.23 L698.96,461.03 L700.06,461.83 L701.17,462.63 L702.27,463.43 L703.38,464.23 L704.48,465.03 L705.58,465.83 L706.69,466.63 L707.79,467.42 L708.90,468.22 L710.00,469.02" stroke="#dc143c" stroke-width="1.8"/>
<path d="M159.10,140.05 L159.92,140.58 L160.74,141.11 L161.57,141.65 L162.39,142.18 L163.21,142.72 L164.03,143.25 L164.86,143.79 L165.68,144.33 L166.50,144.86 L167.32,145.40 L168.15,145.94 L168.97,146.48 L169.79,147.02 L170.61,147.56 L171.44,148.10 L172.26,148.64 L173.08,149.19 L173.90,149.73 L174.73,150.27 L175.55,150.82 L176.37,151.36 L177.19,151.91 L178.02,152.45 L178.84,153.00 L179.66,153.54 L180.48,154.09 L181.31,154.64 L182.13,155.19 L182.95,155.74 L183.77,156.29 L184.59,156.84 L185.42,157.39 L186.24,157.94 L187.06,158.49 L187.88,159.04 L188.71,159.59 L189.53,160.15 L190.35,160.70 L191.17,161.26 L192.00,161.81 L192.82,162.37 L193.64,162.92 L194.46,163.48 L195.29,164.04 L196.11,164.59 L196.93,165.15 L197.75,165.71 L198.58,166.27 L199.40,166.83 L200.22,167.39 L201.04,167.95 L201.87,168.51 L202.69,169.07 L203.51,169.63 L204.33,170.19 L205.15,170.76 L205.98,171.32 L206.80,171.88 L207.62,172.45 L208.44,173.01 L209.27,173.58 L210.09,174.14 L210.91,174.71 L211.73,175.27 L212.56,175.84 L213.38,176.41 L214.20,176.97 L215.02,177.54 L215.85,178.11 L216.67,178.68 L217.49,179.25 L218.31,179.82 L219.14,180.39 L219.96,180.96 L220.78,181.53 L221.60,182.10 L222.43,182.68 L223.25,183.25 L224.07,183.82 L224.89,184.39 L225.72,184.97 L226.54,185.54 L227.36,186.12 L228.18,186.69 L229.00,187.27 L229.83,187.84 L230.65,188.42 L231.47,189.00 L232.29,189.57 L233.12,190.15 L233.94,190.73 L234.76,191.31 L235.58,191.88 L236.41,192.46 L237.23,193.04 L238.05,193.62 L238.87,194.20 L239.70,194.78 L240.52,195.36 L241.34,195.95 L242.16,196.53 L242.99,197.11 L243.81,197.69 L244.63,198.27 L245.45,198.86 L246.28,199.44 L247.10,200.02 L247.92,200.61 L248.74,201.19 L249.56,201.78 L250.39,202.36 L251.21,202.95 L252.03,203.54 L252.85,204.12 L253.68,204.71 L254.50,205.30 L255.32,205.88 L256.14,206.47 L256.97,207.06 L257.79,207.65 L258.61,208.24 L259.43,208.83 L260.26,209.42 L261.08,210.01 L261.90,210.60 L262.72,211.19 L263.55,211.78 L264.37,212.37 L265.19,212.96 L266.01,213.55 L266.84,214.15 L267.66,214.74 L268.48,215.33 L269.30,215.92 L270.13,216.52 L270.95,217.11 L271.77,217.71 L272.59,218.30 L273.41,218.90 L274.24,219.49 L275.06,220.09 L275.88,220.68 L276.70,221.28 L277.53,221.87 L278.35,222.47 L279.17,223.07 L279.99,223.67 L280.82,224.26 L281.64,224.86 L282.46,225.46 L283.28,226.06 L284.11,226.66 L284.93,227.26 L285.75,227.86 L286.57,228.46 L287.40,229.06 L288.22,229.66 L289.04,230.26 L289.86,230.86 L290.69,231.46 L291.51,232.06 L292.33,232.66 L293.15,233.27 L293.97,233.87 L294.80,234.47 L295.62,235.07 L296.44,235.68 L297.26,236.28 L298.09,236.89 L298.91,237.49 L299.73,238.09 L300.55,238.70 L301.38,239.30 L302.20,239.91 L303.02,240.52 L303.84,241.12 L304.67,241.73 L305.49,242.33 L306.31,242.94 L307.13,243.55 L307.96,244.16 L308.78,244.76 L309.60,245.37 L310.42,245.98 L311.25,246.59 L312.07,247.20 L312.89,247.80 L313.71,248.41 L314.54,249.02 L315.36,249.63 L316.18,250.24 L317.00,250.85 L317.82,251.46 L318.65,252.07 L319.47,252.69 L320.29,253.30 L321.11,253.91 L321.94,254.52 L322.76,255.13 L323.58,255.74 L324.40,256.36 L325.23,256.97 L326.05,257.58 L326.87,258.20 L327.69,258.81 L328.52,259.42 L329.34,260.04 L330.16,260.65 L330.98,261.27 L331.81,261.88 L332.63,262.50 L333.45,263.11 L334.27,263.73 L335.10,264.34 L335.92,264.96 L336.74,265.57 L337.56,266.19 L338.38,266.81 L339.21,267.42 L340.03,268.04 L340.85,268.66 L341.67,269.28 L342.50,269.89 L343.32,270.51 L344.14,271.13 L344.96,271.75 L345.79,272.37 L346.61,272.99 L347.43,273.61 L348.25,274.22 L349.08,274.84 L349.90,275.46 L350.72,276.08 L351.54,276.70 L352.37,277.33 L353.19,277.95 L354.01,278.57 L354.83,279.19 L355.66,279.81 L356.48,280.43 L357.30,281.05 L358.12,281.68 L358.95,282.30 L359.77,282.92 L360.59,283.54 L361.41,284.17 L362.23,284.79 L363.06,285.41 L363.88,286.04 L364.70,286.66 L365.52,287.28 L366.35,287.91 L367.17,288.53 L367.99,289.16 L368.81,289.78 L369.64,290.41 L370.46,291.03 L371.28,291.66 L372.10,292.28 L372.93,292.91 L373.75,293.53 L374.57,294.16 L375.39,294.79 L376.22,295.41 L377.04,296.04 L377.86,296.67 L378.68,297.30 L379.51,297.92 L380.33,298.55 L381.15,299.18 L381.97,299.81 L382.79,300.43 L383.62,301.06 L384.44,301.69 L385.26,302.32 L386.08,302.95 L386.91,303.58 L387.73,304.21 L388.55,304.84 L389.37,305.47 L390.20,306.10 L391.02,306.73 L391.84,307.36 L392.66,307.99 L393.49,308.62 L394.31,309.25 L395.13,309.88 L395.95,310.51 L396.78,311.14 L397.60,311.78 L398.42,312.41 L399.24,313.04 L400.07,313.67 L400.89,314.30 L401.71,314.94 L402.53,315.57 L403.36,316.20 L404.18,316.84 L405.00,317.47" stroke="#000000" stroke-width="1.8" stroke-dasharray="14 3.4"/>
<path d="M159.10,142.21 L160.12,141.58 L161.15,140.98 L162.17,140.41 L163.19,139.87 L164.22,139.36 L165.24,138.88 L166.26,138.43 L167.28,138.00 L168.31,137.60 L169.33,137.22 L170.35,136.87 L171.38,136.54 L172.40,136.22 L173.42,135.93 L174.45,135.66 L175.47,135.41 L176.49,135.18 L177.52,134.97 L178.54,134.77 L179.56,134.60 L180.58,134.43 L181.61,134.29 L182.63,134.16 L183.65,134.05 L184.68,133.95 L185.70,133.86 L186.72,133.79 L187.75,133.73 L188.77,133.69 L189.79,133.66 L190.82,133.64 L191.84,133.63 L192.86,133.64 L193.88,133.65 L194.91,133.68 L195.93,133.72 L196.95,133.77 L197.98,133.83 L199.00,133.90 L200.02,133.99 L201.05,134.08 L202.07,134.18 L203.09,134.29 L204.12,134.41 L205.14,134.53 L206.16,134.67 L207.18,134.82 L208.21,134.97 L209.23,135.13 L210.25,135.30 L211.28,135.48 L212.30,135.67 L213.32,135.86 L214.35,136.06 L215.37,136.27 L216.39,136.48 L217.42,136.71 L218.44,136.93 L219.46,137.17 L220.48,137.41 L221.51,137.66 L222.53,137.92 L223.55,138.18 L224.58,138.45 L225.60,138.72 L226.62,139.00 L227.65,139.28 L228.67,139.57 L229.69,139.87 L230.72,140.17 L231.74,140.48 L232.76,140.79 L233.78,141.11 L234.81,141.43 L235.83,141.76 L236.85,142.09 L237.88,142.43 L238.90,142.77 L239.92,143.12 L240.95,143.47 L241.97,143.83 L242.99,144.19 L244.02,144.55 L245.04,144.92 L246.06,145.30 L247.08,145.68 L248.11,146.06 L249.13,146.45 L250.15,146.84 L251.18,147.23 L252.20,147.63 L253.22,148.03 L254.25,148.44 L255.27,148.85 L256.29,149.26 L257.32,149.68 L258.34,150.10 L259.36,150.52 L260.38,150.95 L261.41,151.38 L262.43,151.82 L263.45,152.26 L264.48,152.70 L265.50,153.14 L266.52,153.59 L267.55,154.04 L268.57,154.49 L269.59,154.95 L270.62,155.41 L271.64,155.88 L272.66,156.34 L273.68,156.81 L274.71,157.28 L275.73,157.76 L276.75,158.24 L277.78,158.72 L278.80,159.20 L279.82,159.69 L280.85,160.18 L281.87,160.67 L282.89,161.16 L283.92,161.66 L284.94,162.16 L285.96,162.66 L286.98,163.17 L288.01,163.67 L289.03,164.18 L290.05,164.69 L291.08,165.21 L292.10,165.72 L293.12,166.24 L294.15,166.76 L295.17,167.29 L296.19,167.81 L297.22,168.34 L298.24,168.87 L299.26,169.40 L300.28,169.94 L301.31,170.48 L302.33,171.01 L303.35,171.56 L304.38,172.10 L305.40,172.64 L306.42,173.19 L307.45,173.74 L308.47,174.29 L309.49,174.84 L310.52,175.40 L311.54,175.96 L312.56,176.52 L313.58,177.08 L314.61,177.64 L315.63,178.20 L316.65,178.77 L317.68,179.34 L318.70,179.91 L319.72,180.48 L320.75,181.05 L321.77,181.63 L322.79,182.21 L323.82,182.78 L324.84,183.36 L325.86,183.95 L326.88,184.53 L327.91,185.12 L328.93,185.70 L329.95,186.29 L330.98,186.88 L332.00,187.47 L333.02,188.07 L334.05,188.66 L335.07,189.26 L336.09,189.86 L337.12,190.45 L338.14,191.06 L339.16,191.66 L340.18,192.26 L341.21,192.87 L342.23,193.47 L343.25,194.08 L344.28,194.69 L345.30,195.30 L346.32,195.92 L347.35,196.53 L348.37,197.14 L349.39,197.76 L350.42,198.38 L351.44,199.00 L352.46,199.62 L353.48,200.24 L354.51,200.86 L355.53,201.49 L356.55,202.11 L357.58,202.74 L358.60,203.37 L359.62,204.00 L360.65,204.63 L361.67,205.26 L362.69,205.90 L363.72,206.53 L364.74,207.17 L365.76,207.80 L366.78,208.44 L367.81,209.08 L368.83,209.72 L369.85,210.36 L370.88,211.00 L371.90,211.65 L372.92,212.29 L373.95,212.94 L374.97,213.59 L375.99,214.23 L377.02,214.88 L378.04,215.53 L379.06,216.19 L380.08,216.84 L381.11,217.49 L382.13,218.15 L383.15,218.80 L384.18,219.46 L385.20,220.12 L386.22,220.77 L387.25,221.43 L388.27,222.10 L389.29,222.76 L390.32,223.42 L391.34,224.08 L392.36,224.75 L393.38,225.41 L394.41,226.08 L395.43,226.75 L396.45,227.42 L397.48,228.09 L398.50,228.76 L399.52,229.43 L400.55,230.10 L401.57,230.77 L402.59,231.45 L403.62,232.12 L404.64,232.80 L405.66,233.47 L406.68,234.15 L407.71,234.83 L408.73,235.51 L409.75,236.19 L410.78,236.87 L411.80,237.55 L412.82,238.24 L413.85,238.92 L414.87,239.60 L415.89,240.29 L416.92,240.98 L417.94,241.66 L418.96,242.35 L419.98,243.04 L421.01,243.73 L422.03,244.42 L423.05,245.11 L424.08,245.80 L425.10,246.49 L426.12,247.19 L427.15,247.88 L428.17,248.57 L429.19,249.27 L430.22,249.97 L431.24,250.66 L432.26,251.36 L433.28,252.06 L434.31,252.76 L435.33,253.46 L436.35,254.16 L437.38,254.86 L438.40,255.56 L439.42,256.27 L440.45,256.97 L441.47,257.67 L442.49,258.38 L443.52,259.09 L444.54,259.79 L445.56,260.50 L446.58,261.21 L447.61,261.91 L448.63,262.62 L449.65,263.33 L450.68,264.04 L451.70,264.76 L452.72,265.47 L453.75,266.18 L454.77,266.89 L455.79,267.61 L456.82,268.32 L457.84,269.04 L458.86,269.75 L459.88,270.47 L460.91,271.18 L461.93,271.90 L462.95,272.62 L463.98,273.34 L465.00,274.06" stroke="#ffd700" stroke-width="1.8" stroke-dasharray="14 3.4"/>
<path d="M159.10,95.46 L160.29,95.65 L161.48,95.85 L162.67,96.06 L163.86,96.28 L165.05,96.51 L166.24,96.75 L167.43,97.00 L168.62,97.27 L169.81,97.53 L171.00,97.81 L172.19,98.10 L173.38,98.40 L174.57,98.70 L175.76,99.01 L176.95,99.33 L178.14,99.66 L179.34,100.00 L180.53,100.34 L181.72,100.70 L182.91,101.05 L184.10,101.42 L185.29,101.79 L186.48,102.17 L187.67,102.56 L188.86,102.95 L190.05,103.35 L191.24,103.76 L192.43,104.17 L193.62,104.59 L194.81,105.01 L196.00,105.44 L197.19,105.88 L198.38,106.32 L199.57,106.77 L200.76,107.22 L201.95,107.68 L203.14,108.14 L204.33,108.61 L205.52,109.09 L206.71,109.56 L207.90,110.05 L209.09,110.54 L210.28,111.03 L211.47,111.53 L212.66,112.03 L213.85,112.54 L215.04,113.05 L216.23,113.57 L217.42,114.09 L218.62,114.61 L219.81,115.14 L221.00,115.68 L222.19,116.22 L223.38,116.76 L224.57,117.30 L225.76,117.85 L226.95,118.41 L228.14,118.96 L229.33,119.53 L230.52,120.09 L231.71,120.66 L232.90,121.23 L234.09,121.81 L235.28,122.39 L236.47,122.97 L237.66,123.56 L238.85,124.14 L240.04,124.74 L241.23,125.33 L242.42,125.93 L243.61,126.54 L244.80,127.14 L245.99,127.75 L247.18,128.36 L248.37,128.98 L249.56,129.59 L250.75,130.22 L251.94,130.84 L253.13,131.47 L254.32,132.10 L255.51,132.73 L256.70,133.36 L257.89,134.00 L259.09,134.64 L260.28,135.28 L261.47,135.93 L262.66,136.58 L263.85,137.23 L265.04,137.88 L266.23,138.54 L267.42,139.20 L268.61,139.86 L269.80,140.52 L270.99,141.19 L272.18,141.86 L273.37,142.53 L274.56,143.20 L275.75,143.87 L276.94,144.55 L278.13,145.23 L279.32,145.91 L280.51,146.60 L281.70,147.28 L282.89,147.97 L284.08,148.66 L285.27,149.35 L286.46,150.05 L287.65,150.75 L288.84,151.44 L290.03,152.15 L291.22,152.85 L292.41,153.55 L293.60,154.26 L294.79,154.97 L295.98,155.68 L297.17,156.39 L298.37,157.11 L299.56,157.82 L300.75,158.54 L301.94,159.26 L303.13,159.98 L304.32,160.70 L305.51,161.43 L306.70,162.16 L307.89,162.89 L309.08,163.62 L310.27,164.35 L311.46,165.08 L312.65,165.82 L313.84,166.55 L315.03,167.29 L316.22,168.03 L317.41,168.77 L318.60,169.52 L319.79,170.26 L320.98,171.01 L322.17,171.76 L323.36,172.51 L324.55,173.26 L325.74,174.01 L326.93,174.77 L328.12,175.52 L329.31,176.28 L330.50,177.04 L331.69,177.80 L332.88,178.56 L334.07,179.32 L335.26,180.08 L336.45,180.85 L337.65,181.62 L338.84,182.39 L340.03,183.16 L341.22,183.93 L342.41,184.70 L343.60,185.47 L344.79,186.25 L345.98,187.02 L347.17,187.80 L348.36,188.58 L349.55,189.36 L350.74,190.14 L351.93,190.92 L353.12,191.71 L354.31,192.49 L355.50,193.28 L356.69,194.07 L357.88,194.86 L359.07,195.64 L360.26,196.44 L361.45,197.23 L362.64,198.02 L363.83,198.82 L365.02,199.61 L366.21,200.41 L367.40,201.21 L368.59,202.00 L369.78,202.80 L370.97,203.61 L372.16,204.41 L373.35,205.21 L374.54,206.02 L375.73,206.82 L376.93,207.63 L378.12,208.43 L379.31,209.24 L380.50,210.05 L381.69,210.86 L382.88,211.67 L384.07,212.49 L385.26,213.30 L386.45,214.12 L387.64,214.93 L388.83,215.75 L390.02,216.57 L391.21,217.38 L392.40,218.20 L393.59,219.02 L394.78,219.84 L395.97,220.67 L397.16,221.49 L398.35,222.31 L399.54,223.14 L400.73,223.96 L401.92,224.79 L403.11,225.62 L404.30,226.45 L405.49,227.28 L406.68,228.11 L407.87,228.94 L409.06,229.77 L410.25,230.60 L411.44,231.44 L412.63,232.27 L413.82,233.11 L415.01,233.94 L416.21,234.78 L417.40,235.62 L418.59,236.46 L419.78,237.30 L420.97,238.14 L422.16,238.98 L423.35,239.82 L424.54,240.66 L425.73,241.51 L426.92,242.35 L428.11,243.20 L429.30,244.04 L430.49,244.89 L431.68,245.74 L432.87,246.58 L434.06,247.43 L435.25,248.28 L436.44,249.13 L437.63,249.98 L438.82,250.84 L440.01,251.69 L441.20,252.54 L442.39,253.40 L443.58,254.25 L444.77,255.11 L445.96,255.96 L447.15,256.82 L448.34,257.68 L449.53,258.53 L450.72,259.39 L451.91,260.25 L453.10,261.11 L454.29,261.97 L455.48,262.84 L456.68,263.70 L457.87,264.56 L459.06,265.42 L460.25,266.29 L461.44,267.15 L462.63,268.02 L463.82,268.89 L465.01,269.75 L466.20,270.62 L467.39,271.49 L468.58,272.36 L469.77,273.23 L470.96,274.10 L472.15,274.97 L473.34,275.84 L474.53,276.71 L475.72,277.58 L476.91,278.46 L478.10,279.33 L479.29,280.20 L480.48,281.08 L481.67,281.95 L482.86,282.83 L484.05,283.71 L485.24,284.58 L486.43,285.46 L487.62,286.34 L488.81,287.22 L490.00,288.10 L491.19,288.98 L492.38,289.86 L493.57,290.74 L494.76,291.62 L495.96,292.50 L497.15,293.39 L498.34,294.27 L499.53,295.15 L500.72,296.04 L501.91,296.92 L503.10,297.81 L504.29,298.69 L505.48,299.58 L506.67,300.47 L507.86,301.35 L509.05,302.24 L510.24,303.13 L511.43,304.02 L512.62,304.91 L513.81,305.80 L515.00,306.69" stroke="#008000" stroke-width="1.8" stroke-dasharray="14 3.4"/>
<path d="M159.10,200.68 L160.14,198.57 L161.18,196.58 L162.22,194.71 L163.26,192.94 L164.30,191.27 L165.34,189.70 L166.38,188.20 L167.42,186.79 L168.46,185.45 L169.50,184.18 L170.54,182.98 L171.58,181.84 L172.62,180.75 L173.66,179.73 L174.70,178.75 L175.74,177.82 L176.78,176.94 L177.82,176.11 L178.86,175.32 L179.90,174.57 L180.94,173.85 L181.98,173.18 L183.02,172.54 L184.06,171.93 L185.09,171.36 L186.13,170.82 L187.17,170.31 L188.21,169.82 L189.25,169.37 L190.29,168.94 L191.33,168.53 L192.37,168.15 L193.41,167.80 L194.45,167.46 L195.49,167.15 L196.53,166.87 L197.57,166.60 L198.61,166.35 L199.65,166.12 L200.69,165.91 L201.73,165.72 L202.77,165.54 L203.81,165.38 L204.85,165.24 L205.89,165.12 L206.93,165.01 L207.97,164.91 L209.01,164.83 L210.05,164.77 L211.09,164.72 L212.13,164.68 L213.17,164.65 L214.21,164.64 L215.25,164.64 L216.29,164.66 L217.33,164.68 L218.37,164.72 L219.41,164.76 L220.45,164.82 L221.49,164.89 L222.53,164.97 L223.57,165.06 L224.61,165.16 L225.65,165.27 L226.69,165.39 L227.73,165.52 L228.77,165.65 L229.81,165.80 L230.85,165.95 L231.89,166.12 L232.93,166.29 L233.97,166.47 L235.01,166.66 L236.05,166.85 L237.08,167.06 L238.12,167.27 L239.16,167.49 L240.20,167.71 L241.24,167.94 L242.28,168.18 L243.32,168.43 L244.36,168.68 L245.40,168.94 L246.44,169.21 L247.48,169.48 L248.52,169.76 L249.56,170.04 L250.60,170.33 L251.64,170.63 L252.68,170.93 L253.72,171.24 L254.76,171.55 L255.80,171.87 L256.84,172.20 L257.88,172.52 L258.92,172.86 L259.96,173.20 L261.00,173.54 L262.04,173.89 L263.08,174.25 L264.12,174.61 L265.16,174.97 L266.20,175.34 L267.24,175.71 L268.28,176.09 L269.32,176.47 L270.36,176.86 L271.40,177.25 L272.44,177.64 L273.48,178.04 L274.52,178.45 L275.56,178.85 L276.60,179.26 L277.64,179.68 L278.68,180.10 L279.72,180.52 L280.76,180.95 L281.80,181.38 L282.84,181.81 L283.88,182.25 L284.92,182.69 L285.96,183.13 L287.00,183.58 L288.04,184.03 L289.07,184.48 L290.11,184.94 L291.15,185.40 L292.19,185.87 L293.23,186.33 L294.27,186.81 L295.31,187.28 L296.35,187.76 L297.39,188.23 L298.43,188.72 L299.47,189.20 L300.51,189.69 L301.55,190.18 L302.59,190.68 L303.63,191.17 L304.67,191.67 L305.71,192.18 L306.75,192.68 L307.79,193.19 L308.83,193.70 L309.87,194.21 L310.91,194.73 L311.95,195.24 L312.99,195.76 L314.03,196.29 L315.07,196.81 L316.11,197.34 L317.15,197.87 L318.19,198.40 L319.23,198.94 L320.27,199.48 L321.31,200.02 L322.35,200.56 L323.39,201.10 L324.43,201.65 L325.47,202.20 L326.51,202.75 L327.55,203.30 L328.59,203.85 L329.63,204.41 L330.67,204.97 L331.71,205.53 L332.75,206.09 L333.79,206.66 L334.83,207.22 L335.87,207.79 L336.91,208.36 L337.95,208.94 L338.99,209.51 L340.03,210.09 L341.06,210.67 L342.10,211.25 L343.14,211.83 L344.18,212.41 L345.22,213.00 L346.26,213.59 L347.30,214.18 L348.34,214.77 L349.38,215.36 L350.42,215.95 L351.46,216.55 L352.50,217.15 L353.54,217.75 L354.58,218.35 L355.62,218.95 L356.66,219.56 L357.70,220.16 L358.74,220.77 L359.78,221.38 L360.82,221.99 L361.86,222.60 L362.90,223.21 L363.94,223.83 L364.98,224.45 L366.02,225.06 L367.06,225.68 L368.10,226.30 L369.14,226.93 L370.18,227.55 L371.22,228.18 L372.26,228.80 L373.30,229.43 L374.34,230.06 L375.38,230.69 L376.42,231.32 L377.46,231.96 L378.50,232.59 L379.54,233.23 L380.58,233.87 L381.62,234.50 L382.66,235.14 L383.70,235.79 L384.74,236.43 L385.78,237.07 L386.82,237.72 L387.86,238.36 L388.90,239.01 L389.94,239.66 L390.98,240.31 L392.02,240.96 L393.05,241.61 L394.09,242.27 L395.13,242.92 L396.17,243.58 L397.21,244.24 L398.25,244.89 L399.29,245.55 L400.33,246.21 L401.37,246.87 L402.41,247.54 L403.45,248.20 L404.49,248.87 L405.53,249.53 L406.57,250.20 L407.61,250.87 L408.65,251.54 L409.69,252.21 L410.73,252.88 L411.77,253.55 L412.81,254.22 L413.85,254.90 L414.89,255.57 L415.93,256.25 L416.97,256.93 L418.01,257.60 L419.05,258.28 L420.09,258.96 L421.13,259.65 L422.17,260.33 L423.21,261.01 L424.25,261.69 L425.29,262.38 L426.33,263.07 L427.37,263.75 L428.41,264.44 L429.45,265.13 L430.49,265.82 L431.53,266.51 L432.57,267.20 L433.61,267.89 L434.65,268.58 L435.69,269.28 L436.73,269.97 L437.77,270.67 L438.81,271.37 L439.85,272.06 L440.89,272.76 L441.93,273.46 L442.97,274.16 L444.01,274.86 L445.04,275.56 L446.08,276.26 L447.12,276.97 L448.16,277.67 L449.20,278.38 L450.24,279.08 L451.28,279.79 L452.32,280.50 L453.36,281.20 L454.40,281.91 L455.44,282.62 L456.48,283.33 L457.52,284.04 L458.56,284.75 L459.60,285.47 L460.64,286.18 L461.68,286.89 L462.72,287.61 L463.76,288.32 L464.80,289.04 L465.84,289.76 L466.88,290.48 L467.92,291.19 L468.96,291.91 L470.00,292.63" stroke="#dc143c" stroke-width="1.8" stroke-dasharray="14 3.4"/>
</g>
<g fill="none" stroke="#000" stroke-width="0.9">
<rect x="259.60" y="268.30" width="11.20" height="11.20"/>
<rect x="274.40" y="267.10" width="11.20" height="11.20"/>
<rect x="287.10" y="267.10" width="11.20" height="11.20"/>
<rect x="305.40" y="270.30" width="11.20" height="11.20"/>
<rect x="319.30" y="273.45" width="11.20" height="11.20"/>
<rect x="337.10" y="283.45" width="11.20" height="11.20"/>
<rect x="351.50" y="291.20" width="11.20" height="11.20"/>
<rect x="363.90" y="299.60" width="11.20" height="11.20"/>
<rect x="374.60" y="305.30" width="11.20" height="11.20"/>
<rect x="383.80" y="311.20" width="11.20" height="11.20"/>
<rect x="392.10" y="316.30" width="11.20" height="11.20"/>
<rect x="403.10" y="325.20" width="11.20" height="11.20"/>
<rect x="413.40" y="331.40" width="11.20" height="11.20"/>
<rect x="424.90" y="337.00" width="11.20" height="11.20"/>
<rect x="436.80" y="347.40" width="11.20" height="11.20"/>
<rect x="447.40" y="356.00" width="11.20" height="11.20"/>
<rect x="456.70" y="364.00" width="11.20" height="11.20"/>
<rect x="465.20" y="370.20" width="11.20" height="11.20"/>
<rect x="472.20" y="374.30" width="11.20" height="11.20"/>
<rect x="480.20" y="377.80" width="11.20" height="11.20"/>
<rect x="492.10" y="387.90" width="11.20" height="11.20"/>
<rect x="502.70" y="395.60" width="11.20" height="11.20"/>
<rect x="512.50" y="402.10" width="11.20" height="11.20"/>
<rect x="521.00" y="409.20" width="11.20" height="11.20"/>
<rect x="532.10" y="417.70" width="11.20" height="11.20"/>
<rect x="541.70" y="425.20" width="11.20" height="11.20"/>
<rect x="553.20" y="434.50" width="11.20" height="11.20"/>
<path d="M169.60,392.33 L175.20,402.93 L164.00,402.93 Z"/>
<path d="M182.20,370.53 L187.80,381.13 L176.60,381.13 Z"/>
<path d="M193.30,350.33 L198.90,360.93 L187.70,360.93 Z"/>
<path d="M207.50,330.93 L213.10,341.53 L201.90,341.53 Z"/>
<path d="M223.90,308.43 L229.50,319.03 L218.30,319.03 Z"/>
<path d="M236.50,286.23 L242.10,296.83 L230.90,296.83 Z"/>
<path d="M252.80,275.13 L258.40,285.73 L247.20,285.73 Z"/>
<path d="M265.80,263.43 L271.40,274.03 L260.20,274.03 Z"/>
<path d="M284.70,265.93 L290.30,276.53 L279.10,276.53 Z"/>
<path d="M301.80,266.83 L307.40,277.43 L296.20,277.43 Z"/>
<path d="M319.90,272.33 L325.50,282.93 L314.30,282.93 Z"/>
</g>
<g fill="none" stroke="#dc143c" stroke-width="1">
<circle cx="159.10" cy="369.10" r="5.5"/>
<path d="M159.10,357.72 V382.60 M154.70,357.72 h8.8 M154.70,382.60 h8.8"/>
<circle cx="191.44" cy="338.00" r="5.5"/>
<path d="M191.44,326.62 V351.50 M187.04,326.62 h8.8 M187.04,351.50 h8.8"/>
<circle cx="214.38" cy="316.50" r="5.5"/>
<path d="M214.38,305.12 V330.00 M209.98,305.12 h8.8 M209.98,330.00 h8.8"/>
<circle cx="246.72" cy="291.10" r="5.5"/>
<path d="M246.72,279.72 V304.60 M242.32,279.72 h8.8 M242.32,304.60 h8.8"/>
<circle cx="287.45" cy="264.40" r="5.5"/>
<path d="M287.45,253.02 V277.90 M283.05,253.02 h8.8 M283.05,277.90 h8.8"/>
<circle cx="314.29" cy="254.30" r="5.5"/>
<path d="M314.29,242.92 V267.80 M309.89,242.92 h8.8 M309.89,267.80 h8.8"/>
<circle cx="342.73" cy="250.40" r="5.5"/>
<path d="M342.73,239.02 V263.90 M338.33,239.02 h8.8 M338.33,263.90 h8.8"/>
<circle cx="375.07" cy="254.50" r="5.5"/>
<path d="M375.07,243.12 V268.00 M370.67,243.12 h8.8 M370.67,268.00 h8.8"/>
<circle cx="398.01" cy="262.00" r="5.5"/>
<path d="M398.01,250.62 V275.50 M393.61,250.62 h8.8 M393.61,275.50 h8.8"/>
<circle cx="430.35" cy="275.60" r="5.5"/>
<path d="M430.35,264.22 V289.10 M425.95,264.22 h8.8 M425.95,289.10 h8.8"/>
<circle cx="471.09" cy="299.20" r="5.5"/>
<path d="M471.09,287.82 V312.70 M466.69,287.82 h8.8 M466.69,312.70 h8.8"/>
<circle cx="497.92" cy="316.30" r="5.5"/>
<path d="M497.92,304.92 V329.80 M493.52,304.92 h8.8 M493.52,329.80 h8.8"/>
<circle cx="526.37" cy="335.00" r="5.5"/>
<path d="M526.37,323.62 V348.50 M521.97,323.62 h8.8 M521.97,348.50 h8.8"/>
<circle cx="558.70" cy="358.00" r="5.5"/>
<path d="M558.70,346.62 V371.50 M554.30,346.62 h8.8 M554.30,371.50 h8.8"/>
<circle cx="581.65" cy="373.90" r="5.5"/>
<path d="M581.65,362.52 V387.40 M577.25,362.52 h8.8 M577.25,387.40 h8.8"/>
<circle cx="613.98" cy="397.35" r="5.5"/>
<path d="M613.98,385.97 V410.85 M609.58,385.97 h8.8 M609.58,410.85 h8.8"/>
<circle cx="654.72" cy="428.00" r="5.5"/>
<path d="M654.72,416.62 V441.50 M650.32,416.62 h8.8 M650.32,441.50 h8.8"/>
</g>
<rect x="159.1" y="525.6" width="265.60" height="105.30" fill="#fff" stroke="#000" stroke-width="1"/>
<rect x="621.76" y="80.0" width="88.24" height="104.90" fill="#fff" stroke="#000" stroke-width="1"/>
<g font-family="Liberation Serif, serif" fill="#000">
<text transform="translate(146.40,662.00) scale(0.9904,1.0000)" font-size="25.3" fill="#000">10</text>
<text transform="translate(324.23,662.00) scale(0.9666,1.0000)" font-size="25.3" fill="#000">100</text>
<text transform="translate(502.04,662.00) scale(0.9554,1.0000)" font-size="25.3" fill="#000">1000</text>
<text transform="translate(679.84,662.00) scale(0.9490,1.0000)" font-size="25.3" fill="#000">10000</text>
<text transform="translate(119.91,138.74) scale(0.9750,1.0000)" font-size="25.3" fill="#000">10</text>
<text transform="translate(132.23,305.63) scale(0.9750,1.0000)" font-size="25.3" fill="#000">1</text>
<text transform="translate(113.73,472.51) scale(0.9750,1.0000)" font-size="25.3" fill="#000">0.1</text>
<text transform="translate(101.40,639.40) scale(0.9750,1.0000)" font-size="25.3" fill="#000">0.01</text>
<path d="M632.2,97.00 H667.8" stroke="#000000" stroke-width="1.8"/>
<text x="676.6" y="103.45" font-size="19.7">H</text>
<path d="M632.2,120.57 H667.8" stroke="#008000" stroke-width="1.8"/>
<text x="676.6" y="127.02" font-size="19.7">C</text>
<path d="M632.2,144.14 H667.8" stroke="#ffd700" stroke-width="1.8"/>
<text x="676.6" y="150.59" font-size="19.7">O</text>
<path d="M632.2,167.71 H667.8" stroke="#dc143c" stroke-width="1.8"/>
<text x="676.6" y="174.16" font-size="19.7">Ne</text>
<path d="M189.5,542.8 H226.3" stroke="#000" stroke-width="1.8" stroke-dasharray="14 3.4"/>
<text transform="translate(234.03,550.30) scale(0.9261,1.0000)" font-size="20.5" font-style="italic" fill="#000">σ</text>
<text transform="translate(246.21,553.00) scale(0.9900,1.0000)" font-size="13.8" fill="#000">Bethe</text>
<text transform="translate(282.32,550.30) scale(1.0028,1.0000)" font-size="19.7" fill="#000">= (A ln E + B)/E</text>
<text x="233.9" y="573.0" font-size="19.7">p+H: Shah81</text>
<text x="233.9" y="596.8" font-size="19.7">p+H: Shah87</text>
<text x="233.9" y="620.7" font-size="19.7">p+Ne: Rudd85</text>
</g>
<g fill="none" stroke="#000" stroke-width="1"><rect x="169.70" y="561.20" width="11.20" height="11.20"/><path d="M175.30,583.53 L180.90,594.13 L169.70,594.13 Z"/></g>
<circle cx="175.3" cy="614" r="5.3" fill="none" stroke="#dc143c" stroke-width="1"/>
<g font-family="Liberation Serif, serif" fill="#000">
<text transform="translate(388.11,698.55) scale(1.0475,1.0000)" font-size="31.3" fill="#000">E</text>
<text transform="translate(416.90,700.70) scale(0.6027,1.1465)" font-size="31.3" fill="#000">[</text>
<text transform="translate(423.35,698.55) scale(0.9233,1.0000)" font-size="31.3" fill="#000">k</text>
<text transform="translate(437.18,698.55) scale(0.9150,1.0000)" font-size="31.3" fill="#000">e</text>
<text transform="translate(449.25,698.55) scale(0.9863,1.0000)" font-size="31.3" fill="#000">V</text>
<text transform="translate(472.90,700.70) scale(0.6170,1.1465)" font-size="31.3" fill="#000">]</text>
</g>
<g transform="translate(79.9,417) rotate(-90)" font-family="Liberation Serif, serif" fill="#000">
<text transform="translate(-3.87,0.64) scale(1.2394,1.0000)" font-size="26.4" font-style="italic" fill="#000">σ</text>
<text transform="translate(14.19,6.90) scale(0.9925,1.0000)" font-size="22.3" fill="#000">netIon</text>
<text transform="translate(80.10,2.82) scale(0.6027,1.1426)" font-size="31.3" fill="#000">[</text>
<text transform="translate(86.92,0.00) scale(0.9108,1.0260)" font-size="31.3" fill="#000">A</text>
<circle cx="97.05" cy="-25.45" r="2.15" fill="none" stroke="#000" stroke-width="1.0"/>
<text transform="translate(108.24,-16.30) scale(1.0093,1.0000)" font-size="21.75" fill="#000">2</text>
<text transform="translate(118.83,2.82) scale(0.5883,1.1426)" font-size="31.3" fill="#000">]</text>
</g>
</svg>
</body></html>
